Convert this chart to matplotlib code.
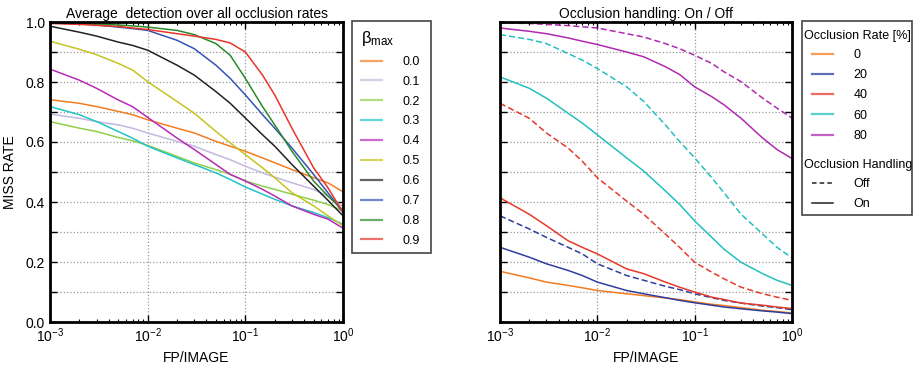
import numpy as np
from matplotlib import pyplot as plt
from matplotlib.lines import Line2D
from matplotlib.patches import Rectangle

plt.rcParams['font.family'] = ['Liberation Sans', 'DejaVu Sans']
plt.rcParams['mathtext.fontset'] = 'custom'
plt.rcParams['mathtext.rm'] = 'Liberation Sans'
plt.rcParams['mathtext.it'] = 'Liberation Sans:italic'

# FP/IMAGE sample points
fppi = [1e-3, 2e-3, 3e-3, 5e-3, 7e-3, 1e-2, 2e-2, 3e-2, 5e-2, 7e-2,
        1e-1, 0.15, 2e-1, 3e-1, 5e-1, 7e-1, 1.0]

# left panel: miss rate per beta_max
beta_labels = ["0.0", "0.1", "0.2", "0.3", "0.4", "0.5", "0.6", "0.7", "0.8", "0.9"]
beta_colors = ["#f47c20", "#c5b8e0", "#8ed04a", "#22c4c4", "#b82bb8",
               "#c4c422", "#222222", "#3553b5", "#2a8a2a", "#e8352a"]
mr_b00 = [0.741, 0.729, 0.718, 0.702, 0.691, 0.674, 0.646, 0.630, 0.602, 0.586,
          0.569, 0.547, 0.531, 0.508, 0.481, 0.464, 0.434]
mr_b01 = [0.693, 0.679, 0.668, 0.657, 0.646, 0.630, 0.602, 0.586, 0.558, 0.541,
          0.519, 0.497, 0.483, 0.464, 0.442, 0.420, 0.385]
mr_b02 = [0.668, 0.646, 0.635, 0.615, 0.604, 0.589, 0.552, 0.530, 0.508, 0.492,
          0.470, 0.453, 0.442, 0.426, 0.406, 0.392, 0.370]
mr_b03 = [0.718, 0.691, 0.668, 0.635, 0.613, 0.586, 0.547, 0.525, 0.497, 0.475,
          0.450, 0.426, 0.409, 0.387, 0.365, 0.348, 0.326]
mr_b04 = [0.843, 0.806, 0.779, 0.740, 0.718, 0.682, 0.613, 0.575, 0.525, 0.492,
          0.470, 0.442, 0.420, 0.387, 0.359, 0.343, 0.313]
mr_b05 = [0.936, 0.909, 0.891, 0.862, 0.840, 0.801, 0.735, 0.696, 0.635, 0.597,
          0.558, 0.514, 0.481, 0.431, 0.387, 0.354, 0.321]
mr_b06 = [0.986, 0.966, 0.953, 0.933, 0.922, 0.906, 0.856, 0.823, 0.768, 0.729,
          0.680, 0.624, 0.586, 0.525, 0.453, 0.406, 0.354]
mr_b07 = [0.997, 0.994, 0.990, 0.983, 0.978, 0.972, 0.939, 0.911, 0.856, 0.812,
          0.757, 0.691, 0.646, 0.580, 0.492, 0.431, 0.365]
mr_b08 = [0.999, 0.996, 0.993, 0.990, 0.987, 0.983, 0.972, 0.958, 0.928, 0.889,
          0.812, 0.718, 0.657, 0.569, 0.470, 0.420, 0.373]
mr_b09 = [0.995, 0.992, 0.989, 0.985, 0.980, 0.975, 0.961, 0.953, 0.942, 0.930,
          0.900, 0.823, 0.757, 0.646, 0.514, 0.448, 0.365]
beta_series = [mr_b00, mr_b01, mr_b02, mr_b03, mr_b04, mr_b05, mr_b06, mr_b07, mr_b08, mr_b09]

# right panel: occlusion rate, handling on / off
occ_labels = ["0", "20", "40", "60", "80"]
occ_colors = ["#f47c20", "#2e3e9e", "#e63a2a", "#22c0c0", "#b02ab0"]
on_00 = [0.169, 0.147, 0.133, 0.122, 0.114, 0.105, 0.094, 0.088, 0.080, 0.075,
         0.067, 0.059, 0.055, 0.048, 0.039, 0.035, 0.030]
on_20 = [0.249, 0.216, 0.194, 0.172, 0.155, 0.133, 0.105, 0.094, 0.081, 0.072,
         0.064, 0.056, 0.050, 0.044, 0.037, 0.033, 0.028]
on_40 = [0.414, 0.359, 0.321, 0.271, 0.249, 0.227, 0.177, 0.161, 0.133, 0.116,
         0.100, 0.083, 0.075, 0.063, 0.056, 0.050, 0.045]
on_60 = [0.817, 0.779, 0.746, 0.696, 0.663, 0.624, 0.547, 0.503, 0.437, 0.392,
         0.337, 0.282, 0.243, 0.199, 0.161, 0.139, 0.122]
on_80 = [0.980, 0.969, 0.961, 0.947, 0.936, 0.925, 0.900, 0.884, 0.851, 0.825,
         0.784, 0.751, 0.724, 0.679, 0.613, 0.575, 0.545]
off_20 = [0.354, 0.310, 0.282, 0.249, 0.227, 0.194, 0.155, 0.139, 0.119, 0.108,
          0.094, 0.081, 0.072, 0.063, 0.053, 0.048, 0.041]
off_40 = [0.729, 0.679, 0.630, 0.580, 0.536, 0.481, 0.403, 0.359, 0.293, 0.249,
          0.199, 0.166, 0.144, 0.116, 0.094, 0.083, 0.072]
off_60 = [0.958, 0.942, 0.928, 0.895, 0.873, 0.845, 0.784, 0.735, 0.657, 0.602,
          0.547, 0.481, 0.431, 0.359, 0.293, 0.249, 0.214]
off_80 = [0.997, 0.995, 0.992, 0.988, 0.984, 0.980, 0.961, 0.950, 0.928, 0.911,
          0.889, 0.862, 0.834, 0.801, 0.746, 0.713, 0.680]
on_series = [on_00, on_20, on_40, on_60, on_80]
off_series = [None, off_20, off_40, off_60, off_80]

FS = 10
LFS = 9
W, H = 914, 366


def style_axes(ax, ylabels=True):
    ax.set_xscale("log")
    ax.set_xlim(1e-3, 1)
    ax.set_ylim(0, 1)
    yt = np.arange(0, 1.01, 0.1)
    ax.set_yticks(yt)
    if ylabels:
        ax.set_yticklabels(["%.1f" % v if i % 2 == 0 else "" for i, v in enumerate(yt)])
    else:
        ax.set_yticklabels([])
    ax.tick_params(which="both", direction="in", top=True, right=True, labelsize=FS)
    ax.tick_params(which="major", length=5, width=1)
    ax.tick_params(which="minor", length=2.5, width=0.8)
    ax.grid(True, which="major", linestyle=":", color="#999999", linewidth=0.9)
    for s in ax.spines.values():
        s.set_linewidth(2)
    ax.set_xlabel("FP/IMAGE", fontsize=FS)


def box(x0, y0, x1, y1):
    # legend frame given in pixel coordinates from the top-left corner
    fig.add_artist(Rectangle((x0 / W, 1 - y1 / H), (x1 - x0) / W, (y1 - y0) / H,
                             transform=fig.transFigure, fill=False,
                             edgecolor="#444444", lw=1.2))


fig = plt.figure(figsize=(W / 100, H / 100), dpi=100)
ax1 = fig.add_axes([50 / W, 44 / H, 293 / W, 300 / H])
ax2 = fig.add_axes([500 / W, 44 / H, 292 / W, 300 / H])

for ys, c, lab in zip(beta_series, beta_colors, beta_labels):
    ax1.plot(fppi, ys, color=c, lw=1.1, label=lab)
style_axes(ax1)
ax1.set_ylabel("MISS RATE", fontsize=FS, labelpad=6)
ax1.set_title("Average  detection over all occlusion rates", fontsize=FS, pad=3)

for on, off, c in zip(on_series, off_series, occ_colors):
    ax2.plot(fppi, on, color=c, lw=1.1)
    if off is not None:
        ax2.plot(fppi, off, color=c, lw=1.1, ls="--", dashes=(4, 2))
style_axes(ax2, ylabels=False)
ax2.set_title("Occlusion handling: On / Off", fontsize=FS, pad=3)

# left legend
leg1 = fig.legend(*ax1.get_legend_handles_labels(), loc="upper left",
                  bbox_to_anchor=(361 / W, 1 - 29 / H), title="β$_{\\mathrm{max}}$",
                  fontsize=LFS, title_fontsize=LFS + 3, frameon=False,
                  handlelength=1.7, handletextpad=1.6, labelspacing=0.63, borderpad=0,
                  borderaxespad=0)
leg1._legend_box.align = "left"
for ln in leg1.get_lines():
    ln.set_alpha(0.7)
    ln.set_linewidth(1.6)
box(352, 21, 431, 253)

# right legend: titles as text, entries indented below them
fig.text(804 / W, 1 - 36 / H, "Occlusion Rate [%]", fontsize=LFS, va="center", ha="left")
rate_handles = [Line2D([], [], color=c, lw=1.6, alpha=0.75) for c in occ_colors]
leg2 = fig.legend(rate_handles, occ_labels, loc="upper left",
                  bbox_to_anchor=(812 / W, 1 - 49 / H),
                  fontsize=LFS, frameon=False,
                  handlelength=1.7, handletextpad=1.6, labelspacing=0.66, borderpad=0,
                  borderaxespad=0)
fig.text(804 / W, 1 - 165 / H, "Occlusion Handling", fontsize=LFS, va="center", ha="left")
hand_handles = [Line2D([], [], color="#222222", lw=1.1, ls="--", dashes=(3, 2)),
                Line2D([], [], color="#222222", lw=1.1)]
leg3 = fig.legend(hand_handles, ["Off", "On"], loc="upper left",
                  bbox_to_anchor=(812 / W, 1 - 178 / H),
                  fontsize=LFS, frameon=False,
                  handlelength=1.7, handletextpad=1.6, labelspacing=0.66, borderpad=0,
                  borderaxespad=0)
box(802, 21, 912, 215)

fig.savefig("out.png", dpi=100)
